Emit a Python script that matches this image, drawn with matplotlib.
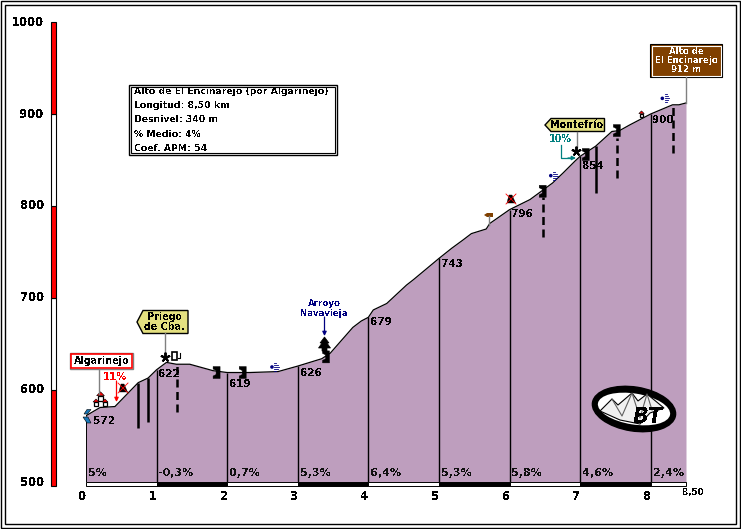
import matplotlib
matplotlib.use('Agg')
import matplotlib.pyplot as plt
from matplotlib.patches import Ellipse, Polygon, Rectangle, Circle

plt.rcParams['font.family'] = ['DejaVu Sans']
plt.rcParams['font.weight'] = 'bold'
plt.rcParams['text.antialiased'] = False

# profile (km, m)
km = [0, 0.2, 0.41, 0.74, 0.88, 1, 1.14, 1.28, 1.47, 1.8, 2, 2.32, 2.72, 3, 3.34, 3.46, 3.78, 3.9,
      4, 4.07, 4.26, 4.54, 4.64, 5, 5.18, 5.34, 5.46, 5.67, 5.72, 6, 6.29, 6.45, 6.61, 6.76, 6.93,
      7, 7.22, 7.45, 7.56, 7.7, 8, 8.31, 8.4, 8.5]
alt = [572, 581, 582, 608, 613, 622, 630, 628, 628, 621, 619, 619, 620, 626, 634, 640, 668, 675,
       679, 687, 694, 714, 720, 743, 754, 763, 770, 775, 781, 796, 807, 816, 825, 836, 849,
       854, 865, 881, 882, 888, 900, 910, 910, 912]

km_marks = [1, 2, 3, 4, 5, 6, 7, 8]
alt_marks = [622, 619, 626, 679, 743, 796, 854, 900]
alt_text_y = [617, 606, 619, 674, 737, 791, 844, 893]
slopes = ['5%', '-0,3%', '0,7%', '5,3%', '6,4%', '5,3%', '5,8%', '4,6%', '2,4%']
slope_km = [0, 1, 2, 3, 4, 5, 6, 7, 8]
y_ticks = [500, 600, 700, 800, 900, 1000]

info_lines = ['Alto de El Encinarejo (por Algarinejo)', 'Longitud: 8,50 km', 'Desnivel: 340 m',
              '% Medio: 4%', 'Coef. APM: 54']

# road crossings (km, top, bottom)
dashed_km = [1.29, 6.47, 7.52, 8.31]
dashed_top = [630, 810, 874, 910]
dashed_bot = [576, 766, 830, 858]
solid_km = [0.74, 0.88, 7.22]
solid_top = [608, 613, 865]
solid_bot = [559, 565, 814]
bridge_km = [1.85, 2.22, 3.4, 6.47, 7.08, 7.52]
bridge_alt = [619, 619, 636, 816, 856, 882]
wind_km = [2.67, 6.62, 8.2]
wind_alt = [625, 833, 917]

FILL = '#BE9EBE'
W, H = 741, 529

fig = plt.figure(figsize=(W/100, H/100), dpi=100)
ax = fig.add_axes([86/W, 1-482/H, 600/W, 460/H])
ax.set_xlim(0, 8.5)
ax.set_ylim(500, 1000)
ax.axis('off')

# overlay in pixels for the frame, signs and icons
over = fig.add_axes([0, 0, 1, 1], zorder=5)
over.set_xlim(0, W)
over.set_ylim(H, 0)
over.axis('off')
over.patch.set_alpha(0)


def px(k, m):
    return over.transData.inverted().transform(ax.transData.transform((k, m)))


ax.fill_between(km, alt, 500, color=FILL, lw=0)
ax.plot(km, alt, color='k', lw=0.9)
ax.vlines([0, 8.5], 500, [572, 912], color='k', lw=0.7)
ax.vlines(km_marks, 500, alt_marks, color='k', lw=1.0)
ax.vlines(solid_km, solid_bot, solid_top, color='k', lw=1.8)
ax.vlines(dashed_km, dashed_bot, dashed_top, color='k', lw=1.8, linestyles=(0, (3.2, 1.8)))

for i in range(len(alt_marks)):
    ax.text(km_marks[i]+0.03, alt_text_y[i], str(alt_marks[i]), fontsize=7.5, va='center', color='k')
ax.text(0.1, 566, '572', fontsize=7.5, va='center', color='k')
for k, s in zip(slope_km, slopes):
    ax.text(k+0.03, 510, s, fontsize=8, va='center', color='#101010')

# bottom band under the profile
for i in range(9):
    right = min(i+1, 8.5)
    c = 'k' if i % 2 == 1 else 'w'
    ax.add_patch(Rectangle((i, 500), right-i, -4.5, fc=c, ec='k', lw=0.7, clip_on=False))

# left scale bar
for i in range(5):
    c = 'red' if i % 2 == 0 else 'w'
    top = 390-92*i
    over.add_patch(Rectangle((50.5, top), 5.5, 96 if i == 0 else 92, fc=c, ec='k', lw=0.8))

for t in y_ticks:
    x, y = px(0, t)
    over.text(44, y, str(t), ha='right', va='center', fontsize=8.4)
for t in range(9):
    x, y = px(t, 500)
    over.text(x-3.5, 497, str(t), ha='center', va='center', fontsize=8.4)
x, y = px(8.5, 500)
over.text(x+7, 493, '8,50', ha='center', va='center', fontsize=6.4)

# double frame
over.add_patch(Rectangle((1, 1), 739, 527, fc='none', ec='k', lw=1))
over.add_patch(Rectangle((4.5, 4.5), 731, 519.5, fc='none', ec='k', lw=1))

# info box
over.add_patch(Rectangle((129, 85), 208, 70, fc='w', ec='k', lw=1))
over.add_patch(Rectangle((131, 87), 204, 66, fc='w', ec='k', lw=0.8))
for i, line in enumerate(info_lines):
    over.text(133.5, 91.5+14.2*i, line, fontsize=6.7, va='center')


def leader(x, y0, y1):
    over.plot([x, x], [y0, y1], color='#808080', lw=1)


# Algarinejo
leader(99, 369, 394)
over.add_patch(Rectangle((70, 353), 63, 16, fc='w', ec='#808080', lw=1))
over.add_patch(Rectangle((71.2, 354.2), 60.6, 13.6, fc='w', ec='red', lw=1.2))
over.text(101.5, 361, 'Algarinejo', fontsize=6.9, ha='center', va='center')

# Priego de Cba.
leader(164.5, 333, 352)
over.add_patch(Polygon([(137, 322), (143, 310.5), (188, 310.5), (188, 333.5), (143, 333.5)], fc='#E4E080', ec='k', lw=1))
over.text(164.5, 316.5, 'Priego', fontsize=6.9, ha='center', va='center')
over.text(164.5, 327, 'de Cba.', fontsize=6.9, ha='center', va='center')

# Montefrio
leader(576.5, 132, 147)
over.add_patch(Polygon([(545, 125), (551, 118.5), (604.5, 118.5), (604.5, 131.5), (551, 131.5)], fc='#E4E080', ec='k', lw=1))
over.text(577, 125, 'Montefrío', fontsize=6.9, ha='center', va='center')

# Alto
leader(686, 77, 103)
over.add_patch(Rectangle((650, 44), 72, 33, fc='#804000', ec='k', lw=0.8))
over.add_patch(Rectangle((651.5, 45.5), 69, 30, fc='#804000', ec='w', lw=0.8))
for y, s in zip([51.5, 60.5, 69.5], ['Alto de', 'El Encinarejo', '912 m']):
    over.text(686, y, s, color='w', fontsize=6.2, ha='center', va='center')

# Arroyo Navavieja
over.text(324, 304, 'Arroyo', color='#000080', fontsize=6.2, ha='center', va='center')
over.text(324, 313.5, 'Navavieja', color='#000080', fontsize=6.2, ha='center', va='center')
over.annotate('', xy=(324.5, 336), xytext=(324.5, 317), arrowprops=dict(arrowstyle='-|>', color='#000080', lw=0.9, mutation_scale=6, shrinkA=0, shrinkB=0))
over.add_patch(Polygon([(324.5, 337), (329, 343), (327, 343), (330.5, 348), (327, 348), (327, 351), (322, 351), (322, 348), (318.5, 348), (322, 343), (320, 343)], fc='k', ec='k', lw=0.5))

# 11% and 10%
over.text(115.5, 377, '11%', color='red', fontsize=7.2, ha='center', va='center')
over.annotate('', xy=(116.5, 402), xytext=(116.5, 381), arrowprops=dict(arrowstyle='-|>', color='red', lw=0.9, mutation_scale=6, shrinkA=0, shrinkB=0))
over.text(560, 139, '10%', color='#008080', fontsize=6.9, ha='center', va='center')
over.plot([561.3, 561.3, 570], [145, 158, 158], color='#008080', lw=0.9)
over.annotate('', xy=(576, 158), xytext=(568, 158), arrowprops=dict(arrowstyle='-|>', color='#008080', lw=0.9, mutation_scale=6, shrinkA=0, shrinkB=0))

# icons
for x0, y0 in [(165, 356.5), (575.5, 150.5)]:
    over.plot([x0], [y0], marker=(5, 2), ms=7, color='k', mew=1.4)

# fuel pump
over.add_patch(Rectangle((172, 352), 5, 8, fc='w', ec='k', lw=1.2))
over.plot([178, 180, 180], [358, 358, 353], color='k', lw=0.8)

for k, m in zip(bridge_km, bridge_alt):
    x0, y0 = px(k, m)
    over.add_patch(Polygon([(x0-3.5, y0-6), (x0+3.5, y0-6), (x0+3.5, y0+6), (x0-3.5, y0+6), (x0-3.5, y0+3.5),
                            (x0-0.5, y0+2), (x0-0.5, y0-2), (x0-3.5, y0-3.5)], fc='k', ec='k', lw=0.3))

for k, m in zip(wind_km, wind_alt):
    x0, y0 = px(k, m)
    over.add_patch(Circle((x0-2.5, y0), 1.8, fc='#000080', ec='none'))
    for dy, dx in zip([-4, -2, 0, 2, 4], [2, 3.5, 4.5, 3.5, 2]):
        over.plot([x0, x0+dx], [y0+dy, y0+dy], color='#000080', lw=0.6)


def house(x0, y0, s=1.0):
    over.add_patch(Rectangle((x0-2*s, y0-1*s), 4*s, 4*s, fc='w', ec='k', lw=0.9))
    over.add_patch(Polygon([(x0-3*s, y0-1*s), (x0, y0-4*s), (x0+3*s, y0-1*s)], fc='red', ec='k', lw=0.4))


house(100.5, 397, 1.3)
house(96, 403)
house(105, 403)
house(641.5, 114.5, 0.9)

# crossed out signs
for x0, y0 in [(123, 388), (511, 199)]:
    over.add_patch(Polygon([(x0-4, y0+4), (x0-2, y0-4), (x0+1, y0-4), (x0+4.5, y0+4)], fc='k', ec='k', lw=0.3))
    over.plot([x0-5, x0+5], [y0-5, y0+5], color='red', lw=0.6)
    over.plot([x0-5, x0+5], [y0+5, y0-5], color='red', lw=0.6)

# start mark, blue
over.add_patch(Polygon([(84, 414), (87, 409.5), (91, 409.5), (87.5, 414)], fc='#1878B8', ec='k', lw=0.4))
over.add_patch(Polygon([(83, 417), (88, 417), (91, 423), (87, 423)], fc='#1878B8', ec='k', lw=0.4))

# brown signpost
over.plot([489, 489], [216, 225], color='#808080', lw=1)
over.add_patch(Polygon([(484, 215), (487, 213), (493, 213), (493, 217), (487, 217)], fc='#804000', ec='none'))

# logo
over.add_patch(Ellipse((634, 409), 84, 44, angle=9, fc='k', ec='k'))
over.add_patch(Ellipse((634, 409), 73, 31, angle=9, fc='w', ec='none'))
over.add_patch(Polygon([(600, 411), (612, 399), (618, 405), (632, 393), (638, 401), (647, 394), (664, 408), (650, 413), (640, 424), (620, 420)], fc='#F0F0F0', ec='k', lw=0.8))
over.plot([612, 622, 632, 640, 647, 652], [399, 416, 393, 418, 394, 410], color='#606060', lw=0.8)
over.text(648, 417, 'BT', fontsize=15, style='italic', ha='center', va='center', color='k')

fig.savefig('out.png', dpi=100, facecolor='w')
